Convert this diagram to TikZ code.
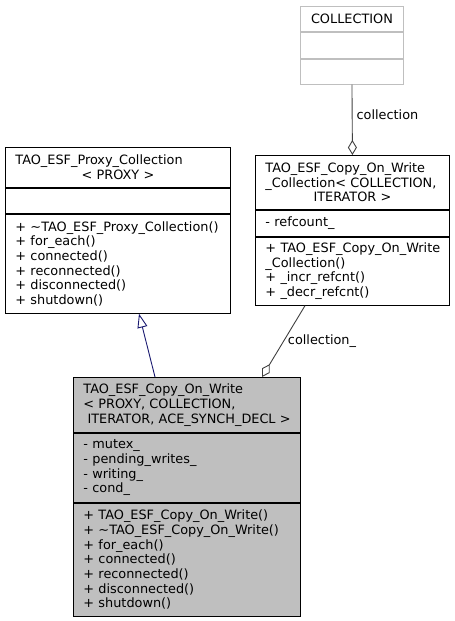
\documentclass[tikz,border=0pt]{standalone}
\usepackage{fontspec}
\setmainfont{DejaVu Sans}
\usetikzlibrary{arrows.meta,positioning}
\definecolor{grey75}{HTML}{BFBFBF}
\definecolor{grey25}{HTML}{404040}
\definecolor{midnight}{HTML}{191970}
\newcommand{\midline}[1]{\makebox[\linewidth]{#1}}

\begin{document}
\begin{tikzpicture}[x=1pt, y=-1pt,
  part/.style={draw, line width=0.9pt, anchor=north west, inner xsep=10pt, inner ysep=0pt,
    align=left, font=\fontsize{12.85}{14.7}\selectfont},
  lbl/.style={font=\fontsize{12.85}{14.7}\selectfont, inner sep=1pt},
  inherit/.style={draw=midnight, line width=0.9pt, -{Triangle[open, length=14pt, width=10pt]}},
  aggr/.style={draw=grey25, line width=0.9pt, -{Diamond[open, length=15pt, width=9pt]}}]
  \useasboundingbox (0,0) rectangle (455,621);
  % template argument box
  \node[part, draw=grey75, text width=83pt, minimum height=25pt, align=center] (colbox-t) at (300,6) {COLLECTION};
  \node[part, draw=grey75, text width=83pt, minimum height=26pt] (colbox-a) at (colbox-t.south west) {};
  \node[part, draw=grey75, text width=83pt, minimum height=25pt] (colbox-o) at (colbox-a.south west) {};
  % base class
  \node[part, text width=205pt, minimum height=40pt] (proxy-t) at (5,147)
    {TAO\_ESF\_Proxy\_Collection\\\midline{< PROXY >}};
  \node[part, text width=205pt, minimum height=25pt] (proxy-a) at (proxy-t.south west) {};
  \node[part, text width=205pt, minimum height=99pt] (proxy-o) at (proxy-a.south west)
    {+ \textasciitilde TAO\_ESF\_Proxy\_Collection()\\+ for\_each()\\+ connected()\\+ reconnected()\\+ disconnected()\\+ shutdown()};
  % collection class
  \node[part, text width=174pt, minimum height=54pt] (coll-t) at (255,155)
    {TAO\_ESF\_Copy\_On\_Write\\\_Collection< COLLECTION,\\\midline{ITERATOR >}};
  \node[part, text width=174pt, minimum height=26pt] (coll-a) at (coll-t.south west) {- refcount\_};
  \node[part, text width=174pt, minimum height=68pt] (coll-o) at (coll-a.south west)
    {+~TAO\_ESF\_Copy\_On\_Write\\\_Collection()\\+ \_incr\_refcnt()\\+ \_decr\_refcnt()};
  % main class
  \node[part, fill=grey75, text width=207pt, minimum height=55pt] (main-t) at (73,377)
    {TAO\_ESF\_Copy\_On\_Write\\< PROXY, COLLECTION,\\\midline{ ITERATOR, ACE\_SYNCH\_DECL >}};
  \node[part, fill=grey75, text width=207pt, minimum height=69pt] (main-a) at (main-t.south west)
    {- mutex\_\\- pending\_writes\_\\- writing\_\\- cond\_};
  \node[part, fill=grey75, text width=207pt, minimum height=113pt] (main-o) at (main-a.south west)
    {+ TAO\_ESF\_Copy\_On\_Write()\\+ \textasciitilde TAO\_ESF\_Copy\_On\_Write()\\+ for\_each()\\+ connected()\\+ reconnected()\\+ disconnected()\\+ shutdown()};
  % relations
  \path[inherit] ([xshift=82pt]main-t.north west) -- ([xshift=134pt]proxy-o.south west);
  \path[aggr] ([xshift=50pt]coll-o.south west) -- node[lbl, pos=0.5, right=3pt] {collection\_} ([xshift=189pt]main-t.north west);
  \path[aggr] (colbox-o.south) -- node[lbl, pos=0.43, right=3pt] {collection} (coll-t.north);
\end{tikzpicture}
\end{document}
